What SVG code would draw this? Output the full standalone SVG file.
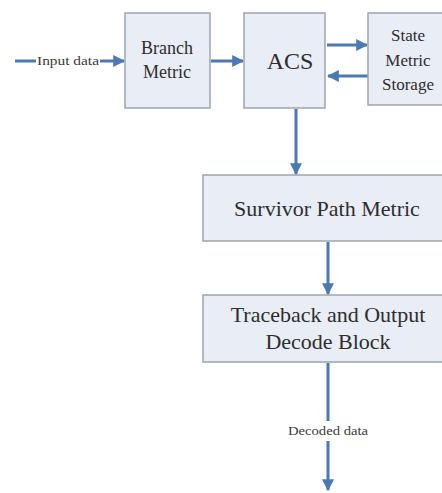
<svg xmlns="http://www.w3.org/2000/svg" width="442" height="493" viewBox="0 0 442 493">
<style>
.box{fill:#e9edf5;stroke:#9ea5ae;stroke-width:1.5}
.t{font-family:'Liberation Serif','Times New Roman','DejaVu Serif',serif;fill:#2e2e2e;text-anchor:middle}
.ln{stroke:#4a79b3;stroke-width:3;fill:none}
.lbl{font-family:'Liberation Serif','Times New Roman','DejaVu Serif',serif;fill:#3a3a3a;font-size:12px;text-anchor:middle}
</style>
<defs>
<marker id="ah" viewBox="0 0 10 10" refX="9" refY="5" markerWidth="4" markerHeight="4" orient="auto" markerUnits="strokeWidth">
<path d="M0,0 L10,5 L0,10 z" fill="#4a79b3"/>
</marker>
</defs>
<rect width="442" height="493" fill="#fff"/>
<g id="connectors">
<line class="ln" x1="15" y1="61" x2="36" y2="61"/>
<line class="ln" x1="100" y1="61" x2="124" y2="61" marker-end="url(#ah)"/>
<line class="ln" x1="211" y1="61" x2="243" y2="61" marker-end="url(#ah)"/>
<line class="ln" x1="327" y1="45" x2="367" y2="45" marker-end="url(#ah)"/>
<line class="ln" x1="368" y1="76" x2="328" y2="76" marker-end="url(#ah)"/>
<line class="ln" x1="296" y1="109" x2="296" y2="174" marker-end="url(#ah)"/>
<line class="ln" x1="328" y1="242" x2="328" y2="294" marker-end="url(#ah)"/>
<line class="ln" x1="328" y1="363" x2="328" y2="421"/>
<line class="ln" x1="328" y1="441" x2="328" y2="490" marker-end="url(#ah)"/>
<text class="lbl" x="68" y="65" textLength="62" lengthAdjust="spacingAndGlyphs">Input data</text>
<text class="lbl" x="328" y="435" textLength="80" lengthAdjust="spacingAndGlyphs">Decoded data</text>
</g>
<g id="branch">
<rect class="box" x="125" y="13" width="85" height="95"/>
<text class="t" font-size="18" x="167" y="54">Branch</text>
<text class="t" font-size="18" x="167" y="78">Metric</text>
</g>
<g id="acs">
<rect class="box" x="244" y="13" width="81" height="95"/>
<text class="t" font-size="24" x="290" y="69">ACS</text>
</g>
<g id="sms">
<rect class="box" x="368" y="13" width="80" height="92"/>
<text class="t" font-size="17" x="408" y="41">State</text>
<text class="t" font-size="17" x="408" y="66">Metric</text>
<text class="t" font-size="17" x="408" y="90">Storage</text>
</g>
<g id="survivor">
<rect class="box" x="203" y="175" width="245" height="66"/>
<text class="t" font-size="22" x="327" y="216">Survivor Path Metric</text>
</g>
<g id="traceback">
<rect class="box" x="203" y="295" width="245" height="67"/>
<text class="t" font-size="22" x="328" y="322">Traceback and Output</text>
<text class="t" font-size="22" x="328" y="349">Decode Block</text>
</g>
</svg>
